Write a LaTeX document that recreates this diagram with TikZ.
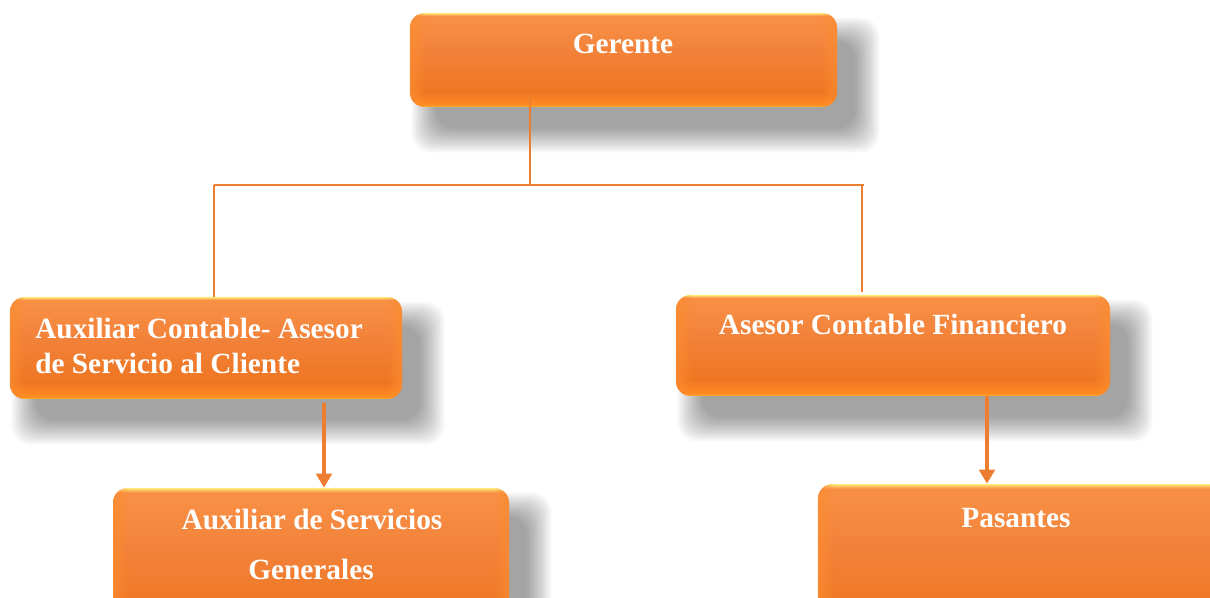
\documentclass[tikz,border=0pt]{standalone}
\usepackage{fontspec}
\setmainfont{Liberation Serif}
\usetikzlibrary{fit,arrows.meta,fadings}

\definecolor{lineor}{HTML}{ED7D31}
\definecolor{oA}{HTML}{FFB02C}
\definecolor{oB}{HTML}{FF8A22}
\definecolor{oC}{HTML}{EE7622}
\definecolor{oD}{HTML}{F2823A}
\definecolor{oE}{HTML}{F88F44}
\definecolor{oF}{HTML}{FFEA7A}
\definecolor{bevel}{HTML}{FC8C30}

% glossy orange fill, bottom to top
\pgfdeclareverticalshading{orgbox}{100bp}{color(0bp)=(oA); color(25bp)=(oA);
  color(26.5bp)=(oB); color(33bp)=(oC); color(55bp)=(oD); color(71bp)=(oE);
  color(73.5bp)=(oE); color(75bp)=(oF); color(100bp)=(oF)}
% opaque at the left and right edges only
\pgfdeclarehorizontalshading{sidesh}{100bp}{color(0bp)=(white); color(25bp)=(white);
  color(27bp)=(black); color(73bp)=(black); color(75bp)=(white); color(100bp)=(white)}
\pgfdeclarefading{sides}{\pgfuseshading{sidesh}}

\pgfdeclarelayer{shadow}
\pgfsetlayers{shadow,main}

% soft drop shadow under a box: stacked translucent rounded rectangles
\newcommand\boxshadow[1]{%
  \foreach \i in {0,...,12}{%
    \pgfmathsetmacro\e{20-2*\i}%
    \fill[black, opacity=0.03, rounded corners=14pt]
      ([shift={(22-\e,25-\e)}]#1.north west) rectangle
      ([shift={(22+\e,25+\e)}]#1.south east);}}

\begin{document}
\begin{tikzpicture}[x=0.75pt,y=-0.75pt,
  box/.style={inner sep=0pt, rounded corners=11pt, shading=orgbox,
    postaction={fill=bevel, path fading=sides, fill opacity=0.8}},
  lbl/.style={text=white, font=\fontsize{22}{27}\selectfont\bfseries, inner sep=0pt},
  conn/.style={draw=lineor, line width=0.9pt},
  arr/.style={draw=lineor, line width=3pt, -{Triangle[width=11.5pt,length=10.5pt]}}]

\useasboundingbox (0,0) rectangle (1210,598);
\clip (0,0) rectangle (1210,598);

% boxes
\node[box, fit={(410,13) (837,107)}] (ger) {};
\node[box, fit={(10,297) (402,399)}] (aux) {};
\node[box, fit={(676,295) (1110,396)}] (ase) {};
\node[box, fit={(113,488) (509,640)}] (gen) {};
\node[box, fit={(818,484) (1240,640)}] (pas) {};

\begin{pgfonlayer}{shadow}
  \clip (0,0) rectangle (1210,598);
  \fill[white] (0,0) rectangle (1210,598);
  \boxshadow{ger}
  \boxshadow{aux}
  \boxshadow{ase}
  \boxshadow{gen}
  \boxshadow{pas}
\end{pgfonlayer}

% labels
\node[lbl, anchor=base] (tger) at (623,54) {Gerente};
\node[lbl, anchor=base west] (taux1) at (35,339) {Auxiliar Contable- Asesor};
\node[lbl, anchor=base west] (taux2) at (35,374) {de Servicio al Cliente};
\node[lbl, anchor=base] (tase) at (893,335) {Asesor Contable Financiero};
\node[lbl, anchor=base] (tgen1) at (312,529) {Auxiliar de Servicios};
\node[lbl, anchor=base] (tgen2) at (311,579) {Generales};
\node[lbl, anchor=base] (tpas) at (1016,527) {Pasantes};

% connectors
\coordinate (bus) at (530,185);
\coordinate (busL) at (214,185);
\coordinate (busR) at (864,185);
\coordinate (dropR) at (862,185);
\coordinate (a1) at (324,0);
\coordinate (a2) at (987,0);

\draw[conn] ([yshift=8pt]ger.south -| bus) -- (bus);
\draw[conn] (busL) -- (busR);
\draw[conn] (busL) -- (busL |- aux.north);
\draw[conn] (dropR) -- ([yshift=2pt]dropR |- ase.north);
\draw[arr] ([yshift=-3pt]aux.south -| a1) -- (gen.north -| a1);
\draw[arr] (ase.south -| a2) -- (pas.north -| a2);
\end{tikzpicture}
\end{document}
